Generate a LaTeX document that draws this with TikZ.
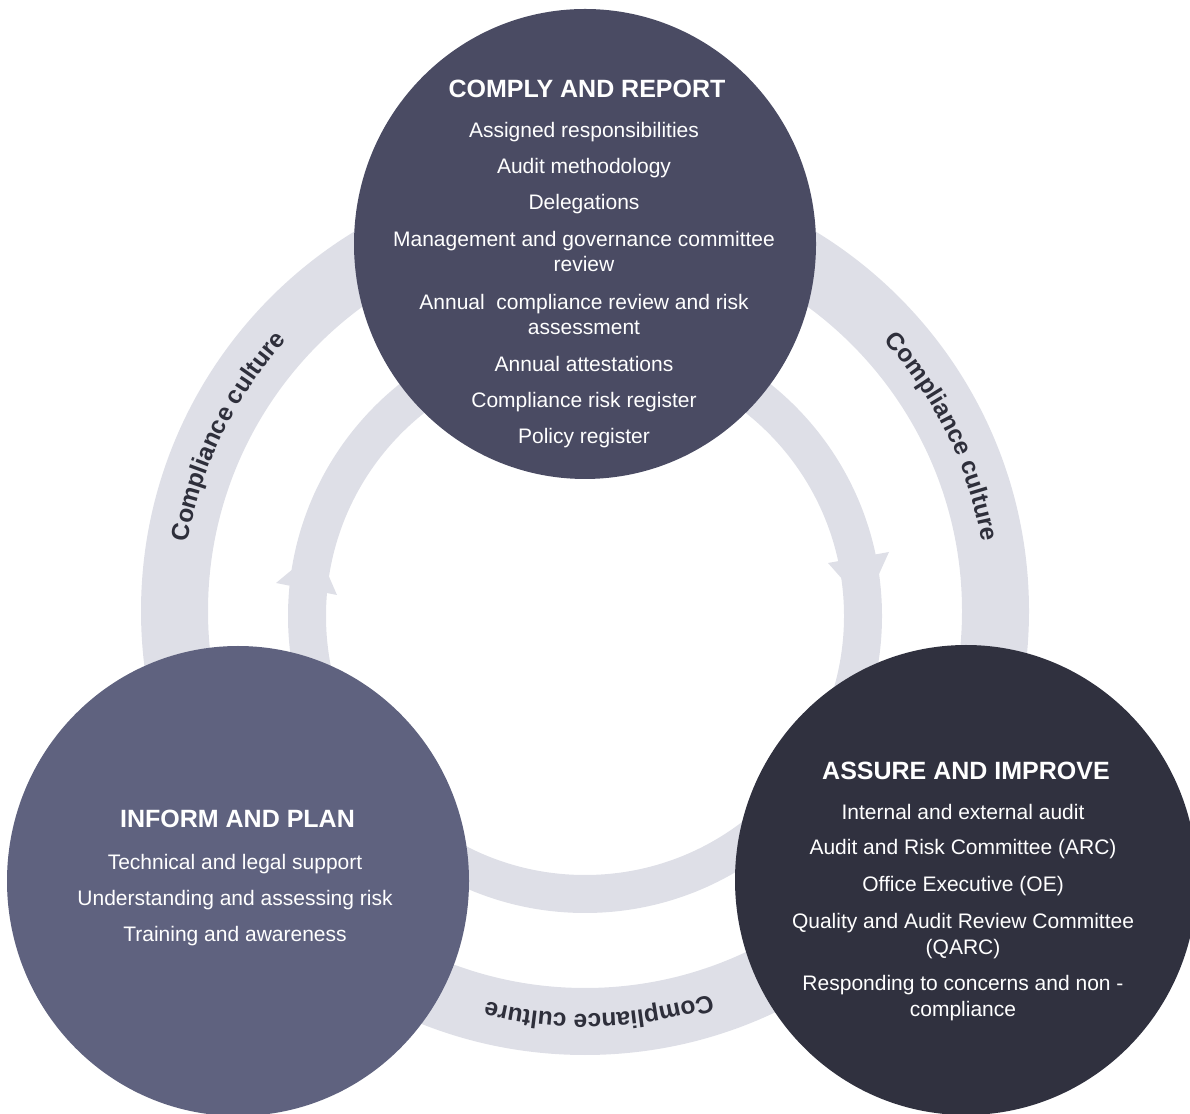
\documentclass[tikz,border=0pt]{standalone}
\usepackage{fontspec}
\setmainfont{Liberation Sans}
\usetikzlibrary{decorations.text,shapes.geometric}
\definecolor{ringgrey}{HTML}{DEDFE7}
\definecolor{complytop}{HTML}{4A4B63}
\definecolor{informleft}{HTML}{5F627F}
\definecolor{assureright}{HTML}{30313F}
\definecolor{ringink}{HTML}{2E2F3B}

\begin{document}
\begin{tikzpicture}[x=1pt,y=1pt,
  stagetitle/.style={text=white, font=\bfseries\fontsize{25}{25}\selectfont, anchor=base, inner sep=0pt},
  stageitem/.style={text=white, font=\fontsize{21}{25}\selectfont, anchor=base, inner sep=0pt},
  stagedisc/.style={ellipse, draw=none, inner sep=0pt, minimum width=462pt, minimum height=470pt},
  ringband/.style={fill=ringgrey, even odd rule},
  barb/.style={fill=ringgrey}
]
\useasboundingbox (0,0) rectangle (1190,1113);
\clip (0,0) rectangle (1190,1113);

\coordinate (outerC) at (585,502);
\coordinate (innerC) at (585,497);

% outer "compliance culture" band and inner cycle band
\fill[ringband] (outerC) circle[radius=444] (outerC) circle[radius=377];
\fill[ringband] (innerC) circle[radius=297] (innerC) circle[radius=259];

% arrow heads on the inner cycle (clockwise flow)
\fill[barb] (276,530) -- (337,518) -- (317,564) -- cycle;
\fill[barb] (828,550) -- (889,561) -- (865,508) -- cycle;

% curved labels on the outer band
\foreach \a in {154,26,272} {
  \path[decorate, decoration={text along path, text align=center,
     text={|\bfseries\fontsize{24.5}{24.5}\selectfont\color{ringink}|Compliance culture}}]
     (outerC) ++(\a+34:403) arc[start angle=\a+34, end angle=\a-34, radius=403];
}

% the three stages
\node[stagedisc, fill=complytop]   (comply) at (585,869) {};
\node[stagedisc, fill=informleft]  (inform) at (238,232) {};
\node[stagedisc, fill=assureright] (assure) at (966,233) {};

% COMPLY AND REPORT
\node[stagetitle] (comply-title) at (587,1015) {COMPLY AND REPORT};
\foreach \y/\t [count=\k] in {
  975/Assigned responsibilities,
  939/Audit methodology,
  903/Delegations,
  866/Management and governance committee,
  841/review,
  803/Annual\ \ compliance review and risk,
  778/assessment,
  741/Annual attestations,
  705/Compliance risk register,
  669/Policy register} {
  \node[stageitem] (comply-\k) at (584,\y) {\t};
}

% INFORM AND PLAN
\node[stagetitle] (inform-title) at (237.5,285) {INFORM AND PLAN};
\foreach \y/\t [count=\k] in {
  243/Technical and legal support,
  207.3/Understanding and assessing risk,
  171.3/Training and awareness} {
  \node[stageitem] (inform-\k) at (235,\y) {\t};
}

% ASSURE AND IMPROVE
\node[stagetitle] (assure-title) at (966,333.7) {ASSURE AND IMPROVE};
\foreach \y/\t [count=\k] in {
  293.7/Internal and external audit,
  258/Audit and Risk Committee (ARC),
  221.3/Office Executive (OE),
  184.7/Quality and Audit Review Committee,
  158.7/(QARC),
  122.3/Responding to concerns and non -,
  97/compliance} {
  \node[stageitem] (assure-\k) at (963,\y) {\t};
}
\end{tikzpicture}
\end{document}
